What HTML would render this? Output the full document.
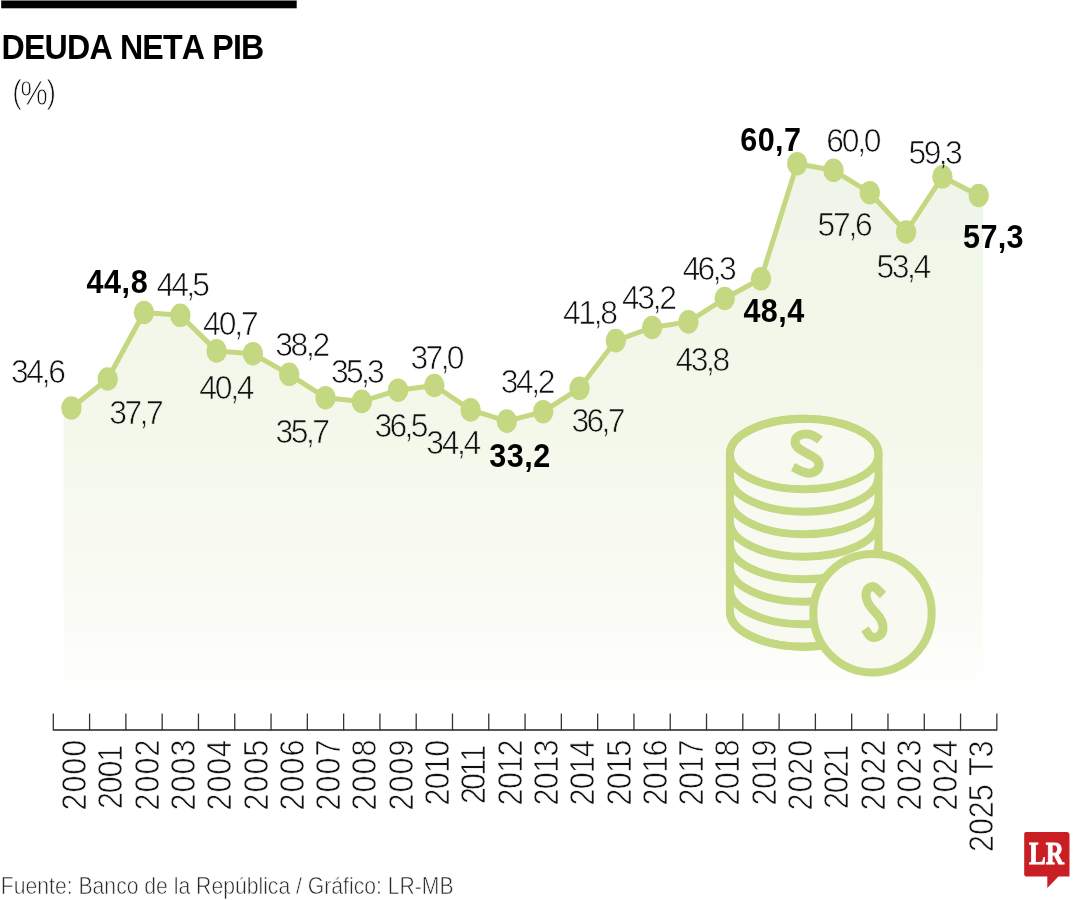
<!DOCTYPE html>
<html lang="es"><head><meta charset="utf-8"><title>Deuda neta PIB</title>
<style>
html,body{margin:0;padding:0;background:#fff;width:1080px;height:900px;overflow:hidden}
svg{display:block}
text{font-kerning:none}
</style></head><body>
<svg width="1080" height="900" viewBox="0 0 1080 900">
<defs>
<linearGradient id="fillg" x1="0" y1="150" x2="0" y2="700" gradientUnits="userSpaceOnUse">
<stop offset="0" stop-color="#eef5e8"/>
<stop offset="0.5" stop-color="#f4f8ea"/>
<stop offset="0.82" stop-color="#fafbf4"/>
<stop offset="1" stop-color="#ffffff"/>
</linearGradient>
</defs>
<rect x="0" y="0" width="1080" height="900" fill="#fff"/>

<rect x="1.2" y="0.5" width="295.5" height="7.8" fill="#000"/>
<text transform="translate(1.55,59.00) scale(0.92,1)" x="0" y="0" font-family="'Liberation Sans', Arial, sans-serif" font-weight="bold" font-size="35.00" textLength="285.56" lengthAdjust="spacing" fill="#000">DEUDA NETA PIB</text>
<text x="12.17" y="102.75" font-family="'Liberation Sans', Arial, sans-serif" font-weight="normal" font-size="33.19" textLength="9.55" lengthAdjust="spacingAndGlyphs" fill="#111" stroke="#fff" stroke-width="0.9">(</text>
<text x="46.58" y="102.75" font-family="'Liberation Sans', Arial, sans-serif" font-weight="normal" font-size="33.19" textLength="9.55" lengthAdjust="spacingAndGlyphs" fill="#111" stroke="#fff" stroke-width="0.9">)</text>
<text x="20.34" y="104.95" font-family="'Liberation Sans', Arial, sans-serif" font-weight="normal" font-size="35.49" textLength="27.61" lengthAdjust="spacingAndGlyphs" fill="#111" stroke="#fff" stroke-width="0.9">%</text>
<polygon fill="url(#fillg)" points="63.5,408.0 71.4,408.0 107.7,379.0 144.0,312.5 180.3,315.3 216.6,350.9 252.9,353.7 289.2,374.3 325.5,397.7 361.8,401.4 398.1,390.2 434.3,385.5 470.6,409.9 506.9,421.1 543.2,411.7 579.5,388.3 615.8,340.6 652.1,327.5 688.4,321.9 724.7,298.5 761.0,278.8 797.2,163.7 833.5,170.3 869.8,192.7 906.1,232.0 942.4,176.8 978.7,195.5 983.0,195.5 983.0,700.0 63.5,700.0"/>
<g fill="none" stroke="#c3d880" stroke-width="8">
<path d="M729.9,454 A74.3,35.3 0 0 1 878.5,454 L878.5,611.5 A74.3,35.3 0 0 1 729.9,611.5 Z" fill="#f8faf1"/>
<ellipse cx="804.2" cy="454" rx="74.3" ry="35.3"/>
<path d="M729.9,476.5 A74.3,35.3 0 0 0 878.5,476.5"/>
<path d="M729.9,499.0 A74.3,35.3 0 0 0 878.5,499.0"/>
<path d="M729.9,521.5 A74.3,35.3 0 0 0 878.5,521.5"/>
<path d="M729.9,544.0 A74.3,35.3 0 0 0 878.5,544.0"/>
<path d="M729.9,566.5 A74.3,35.3 0 0 0 878.5,566.5"/>
<path d="M729.9,589.0 A74.3,35.3 0 0 0 878.5,589.0"/>
<path d="M729.9,611.5 A74.3,35.3 0 0 0 878.5,611.5"/>
<circle cx="872.5" cy="613.3" r="59.2" fill="#f8faf1"/>
</g>
<g fill="none" stroke="#c3d880" stroke-width="9" stroke-linecap="butt" stroke-linejoin="round">
<path d="M883,595 L877,589 C872,584 866,588 866,595 C866,602 870,607 875,612 C880,617 884,622 883,629 C882,637 873,640 869,635 L865,629"/>
<path d="M820,440 C814,435 810,434 806,434 C800,434 795,437 795,442 C795,448 803,451 810,455 C816,458 820,461 819,466 C818,471 812,474 807,473 C801,472 797,469 793,467"/>
</g>
<polyline fill="none" stroke="#c3d880" stroke-width="5" stroke-linejoin="round" points="71.4,408.0 107.7,379.0 144.0,312.5 180.3,315.3 216.6,350.9 252.9,353.7 289.2,374.3 325.5,397.7 361.8,401.4 398.1,390.2 434.3,385.5 470.6,409.9 506.9,421.1 543.2,411.7 579.5,388.3 615.8,340.6 652.1,327.5 688.4,321.9 724.7,298.5 761.0,278.8 797.2,163.7 833.5,170.3 869.8,192.7 906.1,232.0 942.4,176.8 978.7,195.5"/>
<ellipse cx="71.4" cy="408.0" rx="10.2" ry="11.8" fill="#c3d880"/>
<ellipse cx="107.7" cy="379.0" rx="10.2" ry="11.8" fill="#c3d880"/>
<ellipse cx="144.0" cy="312.5" rx="10.2" ry="11.8" fill="#c3d880"/>
<ellipse cx="180.3" cy="315.3" rx="10.2" ry="11.8" fill="#c3d880"/>
<ellipse cx="216.6" cy="350.9" rx="10.2" ry="11.8" fill="#c3d880"/>
<ellipse cx="252.9" cy="353.7" rx="10.2" ry="11.8" fill="#c3d880"/>
<ellipse cx="289.2" cy="374.3" rx="10.2" ry="11.8" fill="#c3d880"/>
<ellipse cx="325.5" cy="397.7" rx="10.2" ry="11.8" fill="#c3d880"/>
<ellipse cx="361.8" cy="401.4" rx="10.2" ry="11.8" fill="#c3d880"/>
<ellipse cx="398.1" cy="390.2" rx="10.2" ry="11.8" fill="#c3d880"/>
<ellipse cx="434.3" cy="385.5" rx="10.2" ry="11.8" fill="#c3d880"/>
<ellipse cx="470.6" cy="409.9" rx="10.2" ry="11.8" fill="#c3d880"/>
<ellipse cx="506.9" cy="421.1" rx="10.2" ry="11.8" fill="#c3d880"/>
<ellipse cx="543.2" cy="411.7" rx="10.2" ry="11.8" fill="#c3d880"/>
<ellipse cx="579.5" cy="388.3" rx="10.2" ry="11.8" fill="#c3d880"/>
<ellipse cx="615.8" cy="340.6" rx="10.2" ry="11.8" fill="#c3d880"/>
<ellipse cx="652.1" cy="327.5" rx="10.2" ry="11.8" fill="#c3d880"/>
<ellipse cx="688.4" cy="321.9" rx="10.2" ry="11.8" fill="#c3d880"/>
<ellipse cx="724.7" cy="298.5" rx="10.2" ry="11.8" fill="#c3d880"/>
<ellipse cx="761.0" cy="278.8" rx="10.2" ry="11.8" fill="#c3d880"/>
<ellipse cx="797.2" cy="163.7" rx="10.2" ry="11.8" fill="#c3d880"/>
<ellipse cx="833.5" cy="170.3" rx="10.2" ry="11.8" fill="#c3d880"/>
<ellipse cx="869.8" cy="192.7" rx="10.2" ry="11.8" fill="#c3d880"/>
<ellipse cx="906.1" cy="232.0" rx="10.2" ry="11.8" fill="#c3d880"/>
<ellipse cx="942.4" cy="176.8" rx="10.2" ry="11.8" fill="#c3d880"/>
<ellipse cx="978.7" cy="195.5" rx="10.2" ry="11.8" fill="#c3d880"/>
<text transform="translate(10.94,382.85) scale(0.94,1)" x="0" y="0" font-family="'Liberation Sans', Arial, sans-serif" font-weight="normal" font-size="33.90" textLength="58.53" lengthAdjust="spacing" fill="#111" stroke="#fff" stroke-width="0.7">34,6</text>
<text transform="translate(109.24,424.05) scale(0.94,1)" x="0" y="0" font-family="'Liberation Sans', Arial, sans-serif" font-weight="normal" font-size="33.90" textLength="57.89" lengthAdjust="spacing" fill="#111" stroke="url(#fillg)" stroke-width="0.7">37,7</text>
<text transform="translate(156.42,295.65) scale(0.94,1)" x="0" y="0" font-family="'Liberation Sans', Arial, sans-serif" font-weight="normal" font-size="33.90" textLength="56.99" lengthAdjust="spacing" fill="#111" stroke="#fff" stroke-width="0.7">44,5</text>
<text transform="translate(203.12,335.35) scale(0.94,1)" x="0" y="0" font-family="'Liberation Sans', Arial, sans-serif" font-weight="normal" font-size="33.90" textLength="59.08" lengthAdjust="spacing" fill="#111" stroke="#fff" stroke-width="0.7">40,7</text>
<text transform="translate(199.22,399.05) scale(0.94,1)" x="0" y="0" font-family="'Liberation Sans', Arial, sans-serif" font-weight="normal" font-size="33.90" textLength="58.90" lengthAdjust="spacing" fill="#111" stroke="url(#fillg)" stroke-width="0.7">40,4</text>
<text transform="translate(275.14,356.15) scale(0.94,1)" x="0" y="0" font-family="'Liberation Sans', Arial, sans-serif" font-weight="normal" font-size="33.90" textLength="58.63" lengthAdjust="spacing" fill="#111" stroke="#fff" stroke-width="0.7">38,2</text>
<text transform="translate(275.44,442.85) scale(0.94,1)" x="0" y="0" font-family="'Liberation Sans', Arial, sans-serif" font-weight="normal" font-size="33.90" textLength="58.00" lengthAdjust="spacing" fill="#111" stroke="url(#fillg)" stroke-width="0.7">35,7</text>
<text transform="translate(330.94,382.85) scale(0.94,1)" x="0" y="0" font-family="'Liberation Sans', Arial, sans-serif" font-weight="normal" font-size="33.90" textLength="57.25" lengthAdjust="spacing" fill="#111" stroke="#fff" stroke-width="0.7">35,3</text>
<text transform="translate(374.44,437.05) scale(0.94,1)" x="0" y="0" font-family="'Liberation Sans', Arial, sans-serif" font-weight="normal" font-size="33.90" textLength="57.40" lengthAdjust="spacing" fill="#111" stroke="url(#fillg)" stroke-width="0.7">36,5</text>
<text transform="translate(410.44,368.65) scale(0.94,1)" x="0" y="0" font-family="'Liberation Sans', Arial, sans-serif" font-weight="normal" font-size="33.90" textLength="57.62" lengthAdjust="spacing" fill="#111" stroke="#fff" stroke-width="0.7">37,0</text>
<text transform="translate(426.24,454.15) scale(0.94,1)" x="0" y="0" font-family="'Liberation Sans', Arial, sans-serif" font-weight="normal" font-size="33.90" textLength="58.56" lengthAdjust="spacing" fill="#111" stroke="url(#fillg)" stroke-width="0.7">34,4</text>
<text transform="translate(500.74,393.45) scale(0.94,1)" x="0" y="0" font-family="'Liberation Sans', Arial, sans-serif" font-weight="normal" font-size="33.90" textLength="58.21" lengthAdjust="spacing" fill="#111" stroke="#fff" stroke-width="0.7">34,2</text>
<text transform="translate(571.44,431.65) scale(0.94,1)" x="0" y="0" font-family="'Liberation Sans', Arial, sans-serif" font-weight="normal" font-size="33.90" textLength="57.46" lengthAdjust="spacing" fill="#111" stroke="url(#fillg)" stroke-width="0.7">36,7</text>
<text transform="translate(563.02,323.95) scale(0.94,1)" x="0" y="0" font-family="'Liberation Sans', Arial, sans-serif" font-weight="normal" font-size="33.90" textLength="58.42" lengthAdjust="spacing" fill="#111" stroke="#fff" stroke-width="0.7">41,8</text>
<text transform="translate(622.02,308.65) scale(0.94,1)" x="0" y="0" font-family="'Liberation Sans', Arial, sans-serif" font-weight="normal" font-size="33.90" textLength="58.44" lengthAdjust="spacing" fill="#111" stroke="#fff" stroke-width="0.7">43,2</text>
<text transform="translate(675.42,370.95) scale(0.94,1)" x="0" y="0" font-family="'Liberation Sans', Arial, sans-serif" font-weight="normal" font-size="33.90" textLength="58.42" lengthAdjust="spacing" fill="#111" stroke="url(#fillg)" stroke-width="0.7">43,8</text>
<text transform="translate(682.42,280.05) scale(0.94,1)" x="0" y="0" font-family="'Liberation Sans', Arial, sans-serif" font-weight="normal" font-size="33.90" textLength="57.69" lengthAdjust="spacing" fill="#111" stroke="#fff" stroke-width="0.7">46,3</text>
<text transform="translate(826.33,152.05) scale(0.94,1)" x="0" y="0" font-family="'Liberation Sans', Arial, sans-serif" font-weight="normal" font-size="33.90" textLength="58.79" lengthAdjust="spacing" fill="#111" stroke="#fff" stroke-width="0.7">60,0</text>
<text transform="translate(817.47,236.05) scale(0.94,1)" x="0" y="0" font-family="'Liberation Sans', Arial, sans-serif" font-weight="normal" font-size="33.90" textLength="58.80" lengthAdjust="spacing" fill="#111" stroke="url(#fillg)" stroke-width="0.7">57,6</text>
<text transform="translate(876.47,278.15) scale(0.94,1)" x="0" y="0" font-family="'Liberation Sans', Arial, sans-serif" font-weight="normal" font-size="33.90" textLength="58.31" lengthAdjust="spacing" fill="#111" stroke="url(#fillg)" stroke-width="0.7">53,4</text>
<clipPath id="dotc"><ellipse cx="942.4" cy="176.8" rx="10.4" ry="12"/></clipPath>
<mask id="nodot" maskUnits="userSpaceOnUse" x="0" y="0" width="1080" height="900"><rect x="0" y="0" width="1080" height="900" fill="#fff"/><ellipse cx="942.4" cy="176.8" rx="10.4" ry="12" fill="#000"/></mask>
<g mask="url(#nodot)"><text transform="translate(908.57,164.15) scale(0.94,1)" x="0" y="0" font-family="'Liberation Sans', Arial, sans-serif" font-weight="normal" font-size="33.90" textLength="57.74" lengthAdjust="spacing" fill="#111" stroke="#fff" stroke-width="0.7">59,3</text></g>
<g clip-path="url(#dotc)"><text transform="translate(908.57,164.15) scale(0.94,1)" x="0" y="0" font-family="'Liberation Sans', Arial, sans-serif" font-weight="normal" font-size="33.90" textLength="57.74" lengthAdjust="spacing" fill="#111" stroke="#c3d880" stroke-width="0.7">59,3</text></g>
<text transform="translate(86.54,293.30) scale(0.94,1)" x="0" y="0" font-family="'Liberation Sans', Arial, sans-serif" font-weight="bold" font-size="32.50" textLength="65.00" lengthAdjust="spacing" fill="#000">44,8</text>
<text transform="translate(489.30,466.70) scale(0.94,1)" x="0" y="0" font-family="'Liberation Sans', Arial, sans-serif" font-weight="bold" font-size="32.50" textLength="64.71" lengthAdjust="spacing" fill="#000">33,2</text>
<text transform="translate(743.44,321.90) scale(0.94,1)" x="0" y="0" font-family="'Liberation Sans', Arial, sans-serif" font-weight="bold" font-size="32.50" textLength="64.71" lengthAdjust="spacing" fill="#000">48,4</text>
<text transform="translate(740.18,150.80) scale(0.94,1)" x="0" y="0" font-family="'Liberation Sans', Arial, sans-serif" font-weight="bold" font-size="32.50" textLength="64.75" lengthAdjust="spacing" fill="#000">60,7</text>
<text transform="translate(963.06,247.50) scale(0.94,1)" x="0" y="0" font-family="'Liberation Sans', Arial, sans-serif" font-weight="bold" font-size="32.50" textLength="64.41" lengthAdjust="spacing" fill="#000">57,3</text>
<line x1="53.3" y1="730" x2="996.84" y2="730" stroke="#222" stroke-width="1.4"/>
<line x1="53.30" y1="713.5" x2="53.30" y2="730.5" stroke="#333" stroke-width="1.3"/>
<line x1="89.59" y1="713.5" x2="89.59" y2="730.5" stroke="#333" stroke-width="1.3"/>
<line x1="125.88" y1="713.5" x2="125.88" y2="730.5" stroke="#333" stroke-width="1.3"/>
<line x1="162.17" y1="713.5" x2="162.17" y2="730.5" stroke="#333" stroke-width="1.3"/>
<line x1="198.46" y1="713.5" x2="198.46" y2="730.5" stroke="#333" stroke-width="1.3"/>
<line x1="234.75" y1="713.5" x2="234.75" y2="730.5" stroke="#333" stroke-width="1.3"/>
<line x1="271.04" y1="713.5" x2="271.04" y2="730.5" stroke="#333" stroke-width="1.3"/>
<line x1="307.33" y1="713.5" x2="307.33" y2="730.5" stroke="#333" stroke-width="1.3"/>
<line x1="343.62" y1="713.5" x2="343.62" y2="730.5" stroke="#333" stroke-width="1.3"/>
<line x1="379.91" y1="713.5" x2="379.91" y2="730.5" stroke="#333" stroke-width="1.3"/>
<line x1="416.20" y1="713.5" x2="416.20" y2="730.5" stroke="#333" stroke-width="1.3"/>
<line x1="452.49" y1="713.5" x2="452.49" y2="730.5" stroke="#333" stroke-width="1.3"/>
<line x1="488.78" y1="713.5" x2="488.78" y2="730.5" stroke="#333" stroke-width="1.3"/>
<line x1="525.07" y1="713.5" x2="525.07" y2="730.5" stroke="#333" stroke-width="1.3"/>
<line x1="561.36" y1="713.5" x2="561.36" y2="730.5" stroke="#333" stroke-width="1.3"/>
<line x1="597.65" y1="713.5" x2="597.65" y2="730.5" stroke="#333" stroke-width="1.3"/>
<line x1="633.94" y1="713.5" x2="633.94" y2="730.5" stroke="#333" stroke-width="1.3"/>
<line x1="670.23" y1="713.5" x2="670.23" y2="730.5" stroke="#333" stroke-width="1.3"/>
<line x1="706.52" y1="713.5" x2="706.52" y2="730.5" stroke="#333" stroke-width="1.3"/>
<line x1="742.81" y1="713.5" x2="742.81" y2="730.5" stroke="#333" stroke-width="1.3"/>
<line x1="779.10" y1="713.5" x2="779.10" y2="730.5" stroke="#333" stroke-width="1.3"/>
<line x1="815.39" y1="713.5" x2="815.39" y2="730.5" stroke="#333" stroke-width="1.3"/>
<line x1="851.68" y1="713.5" x2="851.68" y2="730.5" stroke="#333" stroke-width="1.3"/>
<line x1="887.97" y1="713.5" x2="887.97" y2="730.5" stroke="#333" stroke-width="1.3"/>
<line x1="924.26" y1="713.5" x2="924.26" y2="730.5" stroke="#333" stroke-width="1.3"/>
<line x1="960.55" y1="713.5" x2="960.55" y2="730.5" stroke="#333" stroke-width="1.3"/>
<line x1="996.84" y1="713.5" x2="996.84" y2="730.5" stroke="#333" stroke-width="1.3"/>
<text transform="translate(86.15,810.39) rotate(-90) scale(0.89,1)" x="0" y="0" font-family="'Liberation Sans', Arial, sans-serif" font-weight="normal" font-size="34.30" textLength="79.36" lengthAdjust="spacing" fill="#111" stroke="#fff" stroke-width="0.7">2000</text>
<text transform="translate(122.44,808.89) rotate(-90) scale(0.89,1)" x="0" y="0" font-family="'Liberation Sans', Arial, sans-serif" font-weight="normal" font-size="34.30" textLength="72.16" lengthAdjust="spacing" fill="#111" stroke="#fff" stroke-width="0.7">2001</text>
<text transform="translate(158.73,810.39) rotate(-90) scale(0.89,1)" x="0" y="0" font-family="'Liberation Sans', Arial, sans-serif" font-weight="normal" font-size="34.30" textLength="79.74" lengthAdjust="spacing" fill="#111" stroke="#fff" stroke-width="0.7">2002</text>
<text transform="translate(195.02,810.39) rotate(-90) scale(0.89,1)" x="0" y="0" font-family="'Liberation Sans', Arial, sans-serif" font-weight="normal" font-size="34.30" textLength="79.52" lengthAdjust="spacing" fill="#111" stroke="#fff" stroke-width="0.7">2003</text>
<text transform="translate(231.31,810.39) rotate(-90) scale(0.89,1)" x="0" y="0" font-family="'Liberation Sans', Arial, sans-serif" font-weight="normal" font-size="34.30" textLength="79.02" lengthAdjust="spacing" fill="#111" stroke="#fff" stroke-width="0.7">2004</text>
<text transform="translate(267.60,810.39) rotate(-90) scale(0.89,1)" x="0" y="0" font-family="'Liberation Sans', Arial, sans-serif" font-weight="normal" font-size="34.30" textLength="79.46" lengthAdjust="spacing" fill="#111" stroke="#fff" stroke-width="0.7">2005</text>
<text transform="translate(303.89,810.39) rotate(-90) scale(0.89,1)" x="0" y="0" font-family="'Liberation Sans', Arial, sans-serif" font-weight="normal" font-size="34.30" textLength="79.52" lengthAdjust="spacing" fill="#111" stroke="#fff" stroke-width="0.7">2006</text>
<text transform="translate(340.18,810.39) rotate(-90) scale(0.89,1)" x="0" y="0" font-family="'Liberation Sans', Arial, sans-serif" font-weight="normal" font-size="34.30" textLength="79.74" lengthAdjust="spacing" fill="#111" stroke="#fff" stroke-width="0.7">2007</text>
<text transform="translate(376.47,810.39) rotate(-90) scale(0.89,1)" x="0" y="0" font-family="'Liberation Sans', Arial, sans-serif" font-weight="normal" font-size="34.30" textLength="79.51" lengthAdjust="spacing" fill="#111" stroke="#fff" stroke-width="0.7">2008</text>
<text transform="translate(412.76,810.39) rotate(-90) scale(0.89,1)" x="0" y="0" font-family="'Liberation Sans', Arial, sans-serif" font-weight="normal" font-size="34.30" textLength="79.64" lengthAdjust="spacing" fill="#111" stroke="#fff" stroke-width="0.7">2009</text>
<text transform="translate(449.05,805.39) rotate(-90) scale(0.89,1)" x="0" y="0" font-family="'Liberation Sans', Arial, sans-serif" font-weight="normal" font-size="34.30" textLength="73.74" lengthAdjust="spacing" fill="#111" stroke="#fff" stroke-width="0.7">2010</text>
<text transform="translate(485.34,804.09) rotate(-90) scale(0.89,1)" x="0" y="0" font-family="'Liberation Sans', Arial, sans-serif" font-weight="normal" font-size="34.30" textLength="66.55" lengthAdjust="spacing" fill="#111" stroke="#fff" stroke-width="0.7">2011</text>
<text transform="translate(521.63,805.39) rotate(-90) scale(0.89,1)" x="0" y="0" font-family="'Liberation Sans', Arial, sans-serif" font-weight="normal" font-size="34.30" textLength="74.12" lengthAdjust="spacing" fill="#111" stroke="#fff" stroke-width="0.7">2012</text>
<text transform="translate(557.92,805.39) rotate(-90) scale(0.89,1)" x="0" y="0" font-family="'Liberation Sans', Arial, sans-serif" font-weight="normal" font-size="34.30" textLength="73.91" lengthAdjust="spacing" fill="#111" stroke="#fff" stroke-width="0.7">2013</text>
<text transform="translate(594.21,805.39) rotate(-90) scale(0.89,1)" x="0" y="0" font-family="'Liberation Sans', Arial, sans-serif" font-weight="normal" font-size="34.30" textLength="73.40" lengthAdjust="spacing" fill="#111" stroke="#fff" stroke-width="0.7">2014</text>
<text transform="translate(630.50,805.39) rotate(-90) scale(0.89,1)" x="0" y="0" font-family="'Liberation Sans', Arial, sans-serif" font-weight="normal" font-size="34.30" textLength="73.84" lengthAdjust="spacing" fill="#111" stroke="#fff" stroke-width="0.7">2015</text>
<text transform="translate(666.79,805.39) rotate(-90) scale(0.89,1)" x="0" y="0" font-family="'Liberation Sans', Arial, sans-serif" font-weight="normal" font-size="34.30" textLength="73.91" lengthAdjust="spacing" fill="#111" stroke="#fff" stroke-width="0.7">2016</text>
<text transform="translate(703.08,805.39) rotate(-90) scale(0.89,1)" x="0" y="0" font-family="'Liberation Sans', Arial, sans-serif" font-weight="normal" font-size="34.30" textLength="74.12" lengthAdjust="spacing" fill="#111" stroke="#fff" stroke-width="0.7">2017</text>
<text transform="translate(739.37,805.39) rotate(-90) scale(0.89,1)" x="0" y="0" font-family="'Liberation Sans', Arial, sans-serif" font-weight="normal" font-size="34.30" textLength="73.89" lengthAdjust="spacing" fill="#111" stroke="#fff" stroke-width="0.7">2018</text>
<text transform="translate(775.66,805.39) rotate(-90) scale(0.89,1)" x="0" y="0" font-family="'Liberation Sans', Arial, sans-serif" font-weight="normal" font-size="34.30" textLength="74.02" lengthAdjust="spacing" fill="#111" stroke="#fff" stroke-width="0.7">2019</text>
<text transform="translate(811.95,810.39) rotate(-90) scale(0.89,1)" x="0" y="0" font-family="'Liberation Sans', Arial, sans-serif" font-weight="normal" font-size="34.30" textLength="79.36" lengthAdjust="spacing" fill="#111" stroke="#fff" stroke-width="0.7">2020</text>
<text transform="translate(848.24,808.89) rotate(-90) scale(0.89,1)" x="0" y="0" font-family="'Liberation Sans', Arial, sans-serif" font-weight="normal" font-size="34.30" textLength="72.16" lengthAdjust="spacing" fill="#111" stroke="#fff" stroke-width="0.7">2021</text>
<text transform="translate(884.53,810.39) rotate(-90) scale(0.89,1)" x="0" y="0" font-family="'Liberation Sans', Arial, sans-serif" font-weight="normal" font-size="34.30" textLength="79.74" lengthAdjust="spacing" fill="#111" stroke="#fff" stroke-width="0.7">2022</text>
<text transform="translate(920.82,810.39) rotate(-90) scale(0.89,1)" x="0" y="0" font-family="'Liberation Sans', Arial, sans-serif" font-weight="normal" font-size="34.30" textLength="79.52" lengthAdjust="spacing" fill="#111" stroke="#fff" stroke-width="0.7">2023</text>
<text transform="translate(957.11,810.39) rotate(-90) scale(0.89,1)" x="0" y="0" font-family="'Liberation Sans', Arial, sans-serif" font-weight="normal" font-size="34.30" textLength="79.02" lengthAdjust="spacing" fill="#111" stroke="#fff" stroke-width="0.7">2024</text>
<text transform="translate(993.40,851.89) rotate(-90) scale(0.89,1)" x="0" y="0" font-family="'Liberation Sans', Arial, sans-serif" font-weight="normal" font-size="34.30" textLength="125.03" lengthAdjust="spacing" fill="#111" stroke="#fff" stroke-width="0.7">2025 T3</text>
<text x="0.86" y="894.00" font-family="'Liberation Sans', Arial, sans-serif" font-weight="normal" font-size="24.16" textLength="452.75" lengthAdjust="spacingAndGlyphs" fill="#2a2a2a" stroke="#fff" stroke-width="0.6">Fuente: Banco de la República / Gráfico: LR-MB</text>
<path d="M1026,832 L1066.5,832 Q1069.5,832 1069.5,835 L1069.5,876.4 L1058.4,876.4 L1047.3,888 L1047.3,876.4 L1026,876.4 Q1024.2,876.4 1024.2,874.6 L1024.2,833.8 Q1024.2,832 1026,832 Z" fill="#c91f24"/>
<text x="1029.07" y="864.40" font-family="'Liberation Serif', 'Times New Roman', serif" font-weight="bold" font-size="30.80" textLength="34.91" lengthAdjust="spacingAndGlyphs" fill="#fff" stroke="#fff" stroke-width="0.9">LR</text>
</svg></body></html>
